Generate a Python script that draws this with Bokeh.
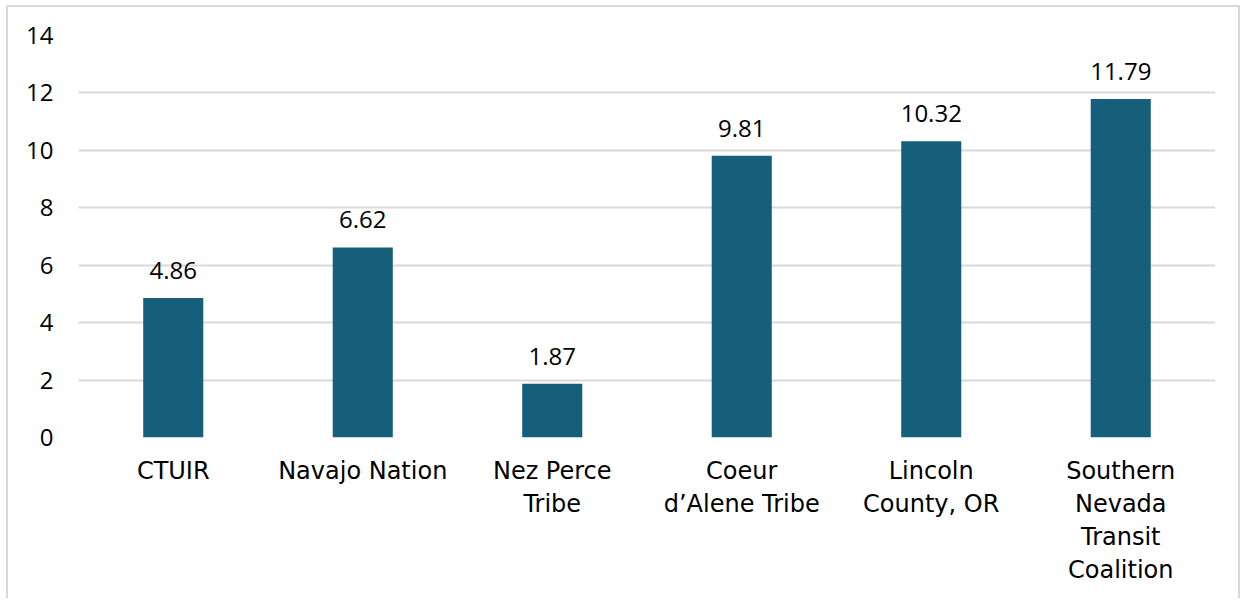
from bokeh.plotting import figure
from bokeh.models import ColumnDataSource, FixedTicker, Range1d
from bokeh.core.properties import value
from bokeh.embed import file_html
from bokeh.resources import INLINE

categories = ["CTUIR", "Navajo Nation", "Nez Perce\nTribe", "Coeur\nd\u2019Alene Tribe",
              "Lincoln\nCounty, OR", "Southern\nNevada\nTransit\nCoalition"]
values = [4.86, 6.62, 1.87, 9.81, 10.32, 11.79]
y_ticks = [0, 2, 4, 6, 8, 10, 12, 14]

FONT = "Open Sans"
XFONT = "DejaVu Sans"
FS = "24px"
BAR = "#155F7A"
GRID = "#D9D9D9"

src = ColumnDataSource(dict(x=categories, top=values,
                            lbl=[f"{v:.2f}" for v in values]))

p = figure(x_range=categories, y_range=Range1d(0, 14),
           width=1234, height=593, output_backend="svg", toolbar_location=None,
           min_border_left=70, min_border_right=27, min_border_top=28, min_border_bottom=163,
           styles={"border-left": "2px solid #D9D9D9", "border-top": "2px solid #D9D9D9",
                   "border-right": "2px solid #D9D9D9", "margin-left": "6px", "margin-top": "5px"})
p.outline_line_color = None
p.background_fill_color = "white"

p.vbar(x="x", top="top", width=0.317, source=src, fill_color=BAR, line_color=None)
p.text(x="x", y="top", text="lbl", source=src, text_align="center", text_baseline="bottom",
       y_offset=-19, text_font=value(FONT), text_font_size=FS, text_color="#000000")

p.yaxis.ticker = FixedTicker(ticks=y_ticks)
p.yaxis.axis_line_color = None
p.yaxis.major_tick_line_color = None
p.yaxis.major_tick_out = 0
p.yaxis.major_tick_in = 0
p.yaxis.minor_tick_line_color = None
p.yaxis.major_label_standoff = 25
p.yaxis.major_label_text_font = FONT
p.yaxis.major_label_text_font_size = FS
p.yaxis.major_label_text_color = "#000000"

p.xaxis.axis_line_color = None
p.xaxis.major_tick_line_color = None
p.xaxis.major_tick_out = 0
p.xaxis.major_tick_in = 0
p.xaxis.major_label_standoff = 19
p.xaxis.major_label_text_font = XFONT
p.xaxis.major_label_text_font_size = FS
p.xaxis.major_label_text_color = "#000000"
p.xaxis.major_label_text_line_height = 1.18

p.xgrid.grid_line_color = None
p.ygrid.grid_line_color = GRID
p.ygrid.grid_line_width = 2

open("out.html", "w").write(file_html(p, INLINE))
